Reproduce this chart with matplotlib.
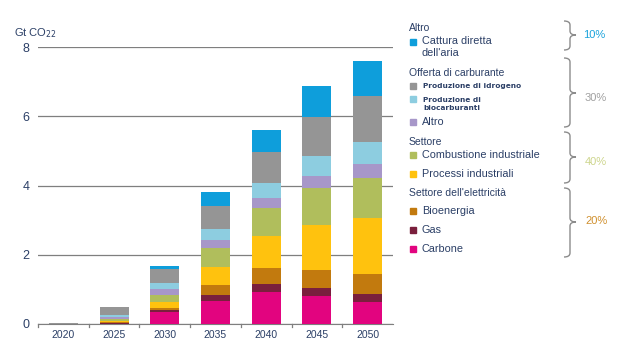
import matplotlib.pyplot as plt
import numpy as np
from matplotlib.path import Path
from matplotlib.patches import PathPatch

plt.rcParams["font.family"] = ["Liberation Sans", "DejaVu Sans"]

years = ["2020", "2025", "2030", "2035", "2040", "2045", "2050"]

# stacked segments, bottom to top (Gt CO2)
carbone = [0.00, 0.01, 0.34, 0.67, 0.93, 0.81, 0.63]
gas = [0.00, 0.01, 0.06, 0.16, 0.22, 0.23, 0.23]
bioenergia = [0.00, 0.03, 0.07, 0.30, 0.47, 0.52, 0.59]
processi = [0.00, 0.03, 0.17, 0.53, 0.91, 1.30, 1.61]
combustione = [0.00, 0.05, 0.21, 0.54, 0.83, 1.08, 1.17]
altro_carb = [0.01, 0.07, 0.16, 0.24, 0.27, 0.34, 0.40]
biocarburanti = [0.00, 0.07, 0.16, 0.31, 0.43, 0.57, 0.62]
idrogeno = [0.03, 0.21, 0.41, 0.66, 0.92, 1.13, 1.34]
dac = [0.00, 0.01, 0.09, 0.41, 0.63, 0.88, 1.01]

series = [
    ("Carbone", carbone, "#E2047F"),
    ("Gas", gas, "#7A1F3D"),
    ("Bioenergia", bioenergia, "#C27A0E"),
    ("Processi industriali", processi, "#FFC20E"),
    ("Combustione industriale", combustione, "#B0BE5C"),
    ("Altro", altro_carb, "#A797C9"),
    ("Produzione di biocarburanti", biocarburanti, "#8DCDE0"),
    ("Produzione di idrogeno", idrogeno, "#959595"),
    ("Cattura diretta dell'aria", dac, "#0E9EDB"),
]

navy = "#2B3F66"
W, H = 629, 354

fig = plt.figure(figsize=(W / 100, H / 100), dpi=100)
ax = fig.add_axes([38 / W, 1 - 324 / H, (393 - 38) / W, (324 - 47) / H])

x = np.arange(len(years))
bottom = np.zeros(len(years))
for name, vals, color in series:
    ax.bar(x, vals, bottom=bottom, width=0.57, color=color, zorder=3)
    bottom += np.array(vals)

ax.set_xlim(-0.5, len(years) - 0.5)
ax.set_ylim(0, 8)
ax.set_yticks([0, 2, 4, 6, 8])
ax.set_xticks(x)
ax.set_xticklabels(years)
for sp in ["top", "right", "left"]:
    ax.spines[sp].set_visible(False)
ax.spines["bottom"].set_color("#7F7F7F")
ax.yaxis.grid(True, color="#7F7F7F", linewidth=0.9, zorder=0)
ax.tick_params(axis="y", length=0, labelsize=9, labelcolor=navy, pad=6)
ax.tick_params(axis="x", length=0, labelsize=7.5, labelcolor=navy, pad=4)
for b in np.arange(0.5, len(years) - 0.5, 1):
    ax.plot([b, b], [0, -0.09], color="#7F7F7F", lw=0.9, clip_on=False)
ax.plot([-0.5, -0.5], [0, -0.09], color="#7F7F7F", lw=0.9, clip_on=False)

# overlay in pixel coordinates for the legend and annotations
ov = fig.add_axes([0, 0, 1, 1], facecolor="none")
ov.set_xlim(0, W)
ov.set_ylim(H, 0)
ov.axis("off")

ov.text(14, 33, "Gt CO$_{22}$", fontsize=8, color=navy, va="center")

legend_rows = [
    ("head", "Altro", None, 28),
    ("item", "Cattura diretta\ndell'aria", "#0E9EDB", 47),
    ("head", "Offerta di carburante", None, 73),
    ("small", "Produzione di idrogeno", "#959595", 86),
    ("small", "Produzione di\nbiocarburanti", "#8DCDE0", 104),
    ("item", "Altro", "#A797C9", 122),
    ("head", "Settore", None, 142),
    ("item", "Combustione industriale", "#B0BE5C", 155),
    ("item", "Processi industriali", "#FFC20E", 174),
    ("head", "Settore dell'elettricità", None, 193),
    ("item", "Bioenergia", "#C27A0E", 211),
    ("item", "Gas", "#7A1F3D", 230),
    ("item", "Carbone", "#E2047F", 249),
]

for kind, label, color, yy in legend_rows:
    if kind == "head":
        ov.text(409, yy, label, fontsize=7.5, color=navy, va="center")
        continue
    if "\n" in label:
        sq_y = yy - 5
    else:
        sq_y = yy
    ov.add_patch(plt.Rectangle((410, sq_y - 3), 6, 6, color=color))
    if kind == "small":
        ov.text(423, yy, label, fontsize=5.3, color=navy, va="center",
                family="DejaVu Sans", fontweight="bold", linespacing=1.5)
    else:
        ov.text(422, yy, label, fontsize=7.8, color=navy, va="center",
                linespacing=1.25)


def brace(y0, y1, ym, x0=564, xs=570, xp=576):
    r = 4
    verts = [
        (x0, y0), (xs, y0), (xs, y0 + r),
        (xs, ym - r),
        (xs, ym), (xp, ym), (xp, ym),
        (xs, ym), (xs, ym + r),
        (xs, y1 - r),
        (xs, y1), (x0, y1),
    ]
    codes = [Path.MOVETO, Path.CURVE3, Path.CURVE3,
             Path.LINETO,
             Path.CURVE3, Path.CURVE3, Path.MOVETO,
             Path.CURVE3, Path.CURVE3,
             Path.LINETO,
             Path.CURVE3, Path.CURVE3]
    ov.add_patch(PathPatch(Path(verts, codes), fill=False,
                           edgecolor="#8C8C8C", lw=1.0))


brace(21, 50, 35)
brace(58, 127, 93)
brace(132, 183, 157)
brace(188, 257, 222)

ov.text(583, 35, "10%", fontsize=8, color="#1AA3DC", va="center")
ov.text(585, 98, "30%", fontsize=8, color="#A0A0A0", va="center")
ov.text(585, 162, "40%", fontsize=8, color="#CDD58C", va="center")
ov.text(585, 221, "20%", fontsize=8, color="#D0902E", va="center")

fig.savefig("out.png", dpi=100)
